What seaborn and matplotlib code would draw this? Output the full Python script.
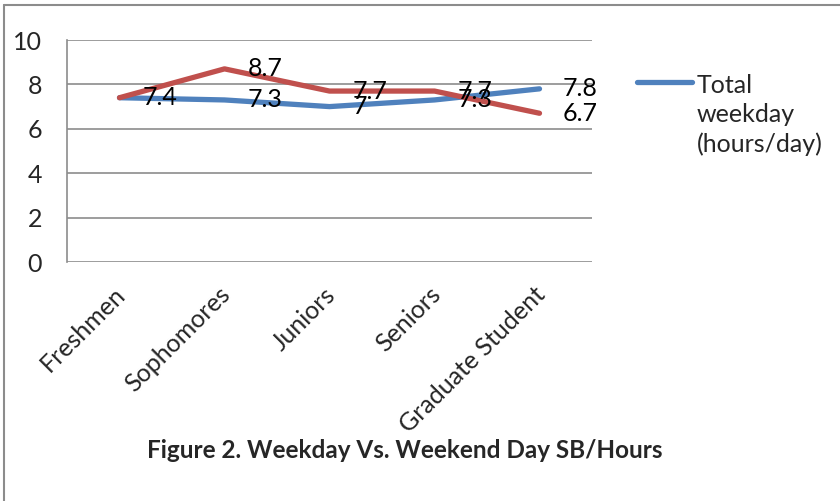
import matplotlib
matplotlib.use("Agg")
import matplotlib.pyplot as plt
import matplotlib.transforms as mtransforms
from matplotlib.lines import Line2D
import seaborn as sns
import pandas as pd

categories = ["Freshmen", "Sophomores", "Juniors", "Seniors", "Graduate Student"]
weekday = [7.4, 7.3, 7.0, 7.3, 7.8]
weekend = [7.4, 8.7, 7.7, 7.7, 6.7]
weekday_labels = ["7.4", "7.3", "7", "7.3", "7.8"]
weekend_labels = ["", "8.7", "7.7", "7.7", "6.7"]
yticks = [0, 2, 4, 6, 8, 10]
title = "Figure 2. Weekday Vs. Weekend Day SB/Hours"
legend_label = "Total\nweekday\n(hours/day)"

sns.set_theme(style="white")
plt.rcParams["font.family"] = ["Lato", "DejaVu Sans"]

W, H = 840, 501
FS = 18
fig = plt.figure(figsize=(W / 100, H / 100), dpi=100)
ax = fig.add_axes([67 / W, 1 - 262 / H, (592 - 67) / W, (262 - 40) / H])

blue = "#4F81BD"
red = "#C0504D"

df = pd.DataFrame({"cat": categories, "weekday": weekday, "weekend": weekend})
x = list(range(len(categories)))
sns.lineplot(x=x, y=df["weekday"], ax=ax, color=blue, lw=3.8, solid_capstyle="round")
sns.lineplot(x=x, y=df["weekend"], ax=ax, color=red, lw=3.8, solid_capstyle="round")

ax.set_xlim(-0.5, len(categories) - 0.5)
ax.set_ylim(0, 10)
ax.set_yticks(yticks)
ax.set_yticklabels([str(t) for t in yticks], fontsize=FS)
ax.yaxis.grid(True, color="#8c8c8c", lw=1.2)
ax.set_axisbelow(True)
ax.set_xticks(x)
ax.set_xticklabels(categories, rotation=45, ha="right", rotation_mode="anchor", fontsize=FS)
ax.tick_params(axis="x", length=0, pad=15)
ax.tick_params(axis="y", length=0, pad=18)
for lbl in ax.get_xticklabels():
    lbl.set_transform(lbl.get_transform() + mtransforms.ScaledTranslation(-6 / 100, 0, fig.dpi_scale_trans))
for s in ["top", "right", "bottom"]:
    ax.spines[s].set_visible(False)
ax.spines["left"].set_color("#8c8c8c")
ax.spines["left"].set_linewidth(1.2)
ax.set_xlabel("")
ax.set_ylabel("")

for xi, v, t in zip(x, weekday, weekday_labels):
    ax.annotate(t, (xi, v), xytext=(17, 0), textcoords="offset points", ha="left", va="center", fontsize=FS, color="black")
for xi, v, t in zip(x, weekend, weekend_labels):
    if t:
        ax.annotate(t, (xi, v), xytext=(17, 0), textcoords="offset points", ha="left", va="center", fontsize=FS, color="black")

# legend (only first series visible)
fig.add_artist(Line2D([637 / W, 692 / W], [1 - 82 / H, 1 - 82 / H], color=blue, lw=3.8, solid_capstyle="round"))
fig.text(697 / W, 1 - 115 / H, legend_label, ha="left", va="center", fontsize=FS, linespacing=1.3)

fig.text(405 / W, 1 - 450 / H, title, ha="center", va="center", fontsize=17.5, fontweight="bold")

# outer border
fig.add_artist(Line2D([4 / W, 4 / W], [0, 1 - 5 / H], color="#8c8c8c", lw=1.5))
fig.add_artist(Line2D([4 / W, 1], [1 - 5 / H, 1 - 5 / H], color="#8c8c8c", lw=1.5))

fig.savefig("out.png", dpi=100)
